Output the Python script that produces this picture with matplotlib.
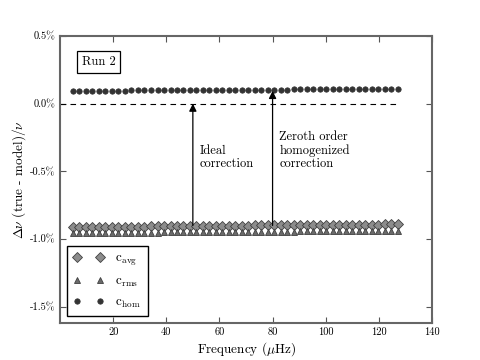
import matplotlib
matplotlib.use("Agg")
import matplotlib.pyplot as plt

# frequencies (muHz)
freq = [4.9, 7.3, 9.8, 12.2, 14.7, 17.1, 19.6, 22.0, 24.5, 26.9,
        29.3, 31.8, 34.2, 36.7, 39.1, 41.6, 44.0, 46.4, 48.9, 51.3,
        53.8, 56.2, 58.7, 61.1, 63.6, 66.0, 68.4, 70.9, 73.3, 75.8,
        78.2, 80.7, 83.1, 85.5, 88.0, 90.4, 92.9, 95.3, 97.8, 100.2,
        102.6, 105.1, 107.5, 110.0, 112.4, 114.9, 117.3, 119.8, 122.2, 124.6,
        127.1]

# relative differences in percent
c_avg = [-0.912, -0.912, -0.911, -0.911, -0.910, -0.910, -0.910, -0.909, -0.909, -0.908,
         -0.908, -0.908, -0.907, -0.907, -0.906, -0.906, -0.905, -0.905, -0.905, -0.904,
         -0.904, -0.903, -0.903, -0.903, -0.902, -0.902, -0.901, -0.901, -0.900, -0.900,
         -0.900, -0.899, -0.899, -0.898, -0.898, -0.898, -0.897, -0.897, -0.896, -0.896,
         -0.895, -0.895, -0.895, -0.894, -0.894, -0.893, -0.893, -0.893, -0.892, -0.892,
         -0.891]
c_rms = [-0.956, -0.956, -0.955, -0.955, -0.955, -0.954, -0.954, -0.954, -0.953, -0.953,
         -0.953, -0.952, -0.952, -0.952, -0.951, -0.951, -0.951, -0.950, -0.950, -0.950,
         -0.949, -0.949, -0.949, -0.948, -0.948, -0.948, -0.947, -0.947, -0.947, -0.946,
         -0.946, -0.946, -0.945, -0.945, -0.945, -0.944, -0.944, -0.944, -0.943, -0.943,
         -0.943, -0.942, -0.942, -0.942, -0.941, -0.941, -0.941, -0.940, -0.940, -0.940,
         -0.939]
c_hom = [0.095, 0.095, 0.096, 0.096, 0.096, 0.096, 0.097, 0.097, 0.097, 0.098,
         0.098, 0.098, 0.098, 0.099, 0.099, 0.099, 0.100, 0.100, 0.100, 0.100,
         0.101, 0.101, 0.101, 0.102, 0.102, 0.102, 0.102, 0.103, 0.103, 0.103,
         0.104, 0.104, 0.104, 0.104, 0.105, 0.105, 0.105, 0.106, 0.106, 0.106,
         0.106, 0.107, 0.107, 0.107, 0.108, 0.108, 0.108, 0.108, 0.109, 0.109,
         0.110]

ytick_vals = [0.5, 0.0, -0.5, -1.0, -1.5]
ytick_labels = ["0.5%", "0.0%", "-0.5%", "-1.0%", "-1.5%"]
xtick_vals = [20, 40, 60, 80, 100, 120, 140]

plt.rcParams['font.family'] = ['cmr10', 'DejaVu Serif']
plt.rcParams['mathtext.fontset'] = 'cm'
plt.rcParams['axes.unicode_minus'] = False

fig, ax = plt.subplots(figsize=(4.8, 3.6), dpi=100)
fig.subplots_adjust(left=0.125, right=0.9, top=0.9, bottom=0.103)

ax.plot(freq, c_avg, linestyle='none', marker='D', markersize=4.6,
        markerfacecolor='#8c8c8c', markeredgecolor='#404040', markeredgewidth=0.6,
        label=r'c$_{\rm avg}$')
ax.plot(freq, c_rms, linestyle='none', marker='^', markersize=4.8,
        markerfacecolor='#6a6a6a', markeredgecolor='#404040', markeredgewidth=0.6,
        label=r'c$_{\rm rms}$')
ax.plot(freq, c_hom, linestyle='none', marker='o', markersize=3.9,
        markerfacecolor='#333333', markeredgecolor='#333333', markeredgewidth=0.5,
        label=r'c$_{\rm hom}$')

ax.hlines(0.0, 0, 127.5, colors='k', linestyles=(0, (5, 4)), linewidth=0.8)

# arrows
ax.annotate('', xy=(50, 0.0), xytext=(50, -0.9),
            arrowprops=dict(arrowstyle='-|>', color='k', lw=0.9, mutation_scale=11,
                            shrinkA=0, shrinkB=0))
ax.annotate('', xy=(80, c_hom[31] - 0.01), xytext=(80, -0.9),
            arrowprops=dict(arrowstyle='-|>', color='k', lw=0.9, mutation_scale=11,
                            shrinkA=0, shrinkB=0))
ax.text(52.5, -0.47, 'Ideal\ncorrection', fontsize=9, linespacing=1.15)
ax.text(82.5, -0.47, 'Zeroth order\nhomogenized\ncorrection', fontsize=9,
        linespacing=1.15)

ax.text(0.058, 0.9, 'Run 2', transform=ax.transAxes, fontsize=9,
        bbox=dict(boxstyle='square,pad=0.4', facecolor='white', edgecolor='k', lw=0.9))

ax.set_xlim(0, 140)
ax.set_ylim(-1.62, 0.5)
ax.set_xticks(xtick_vals)
ax.set_yticks(ytick_vals)
ax.set_yticklabels(ytick_labels)
ax.tick_params(direction='in', top=True, right=True, labelsize=7.5, length=4,
               color='#555555', width=0.8)
for s in ax.spines.values():
    s.set_color('#666666')
    s.set_linewidth(1.5)

ax.set_xlabel(r'Frequency ($\mu$Hz)', fontsize=9.5, labelpad=2)
ax.set_ylabel(r'$\Delta\nu$ (true - model)$/\nu$', fontsize=9.5, labelpad=1)

leg = ax.legend(loc='lower left', numpoints=2, fontsize=9.5, fancybox=False,
                framealpha=1, edgecolor='k', borderpad=0.5, labelspacing=0.55,
                handlelength=2.3, handletextpad=0.9, borderaxespad=0.5)
leg.get_frame().set_linewidth(1.0)

plt.savefig('out.png', dpi=100)
